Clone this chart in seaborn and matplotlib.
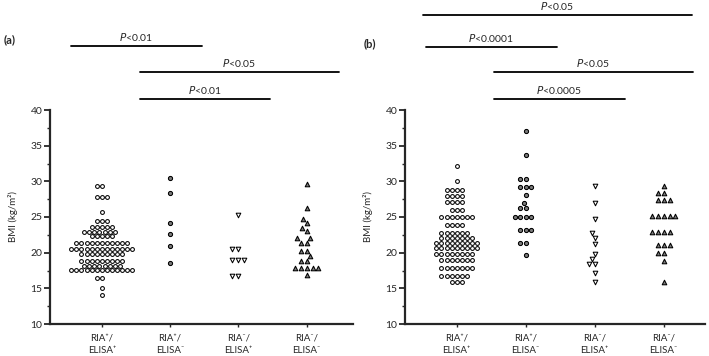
import numpy as np
import pandas as pd
import matplotlib
matplotlib.use("Agg")
import matplotlib.pyplot as plt
from matplotlib.lines import Line2D
import seaborn as sns

# ---------------- data ----------------
groups = ["RIA+/ELISA+", "RIA+/ELISA-", "RIA-/ELISA+", "RIA-/ELISA-"]
tick_labels = ["RIA⁺/\nELISA⁺", "RIA⁺/\nELISA⁻", "RIA⁻/\nELISA⁺", "RIA⁻/\nELISA⁻"]

# panel (a): BMI levels and number of subjects at each level
a1_levels = [29.4, 27.8, 25.7, 24.4, 23.6, 22.9, 22.3, 21.3, 20.5, 19.8, 18.9, 18.2, 17.6, 16.5, 15.0, 14.0]
a1_counts = [2, 3, 1, 3, 5, 7, 5, 11, 13, 9, 9, 8, 13, 2, 1, 1]
a2_levels = [30.5, 28.4, 24.1, 22.6, 21.0, 18.6]
a2_counts = [1, 1, 1, 1, 1, 1]
a3_levels = [25.3, 20.5, 19.0, 16.7]
a3_counts = [1, 2, 3, 2]
a4_levels = [29.6, 26.3, 24.7, 24.1, 23.5, 23.0, 22.0, 21.4, 20.3, 19.5, 18.9, 17.9, 16.9]
a4_counts = [1, 1, 1, 1, 1, 1, 2, 2, 2, 1, 2, 5, 1]

# panel (b)
b1_levels = [32.2, 30.0, 28.8, 28.0, 27.1, 26.0, 25.0, 23.9, 22.8, 22.1, 21.3, 20.6, 19.8, 19.0, 17.8, 16.7, 15.9]
b1_counts = [1, 1, 4, 4, 4, 3, 7, 4, 6, 7, 9, 9, 8, 7, 7, 6, 3]
b2_levels = [37.1, 33.7, 30.3, 29.2, 28.1, 26.9, 26.2, 25.0, 23.2, 21.3, 19.7]
b2_counts = [1, 1, 2, 3, 1, 1, 2, 4, 3, 2, 1]
b3_levels = [29.3, 26.9, 24.7, 22.8, 22.1, 21.2, 19.8, 19.1, 18.4, 17.2, 15.9]
b3_counts = [1, 1, 1, 1, 1, 1, 1, 1, 2, 1, 1]
b4_levels = [29.3, 28.4, 27.4, 25.2, 22.9, 21.1, 20.0, 18.9, 15.9]
b4_counts = [1, 2, 3, 5, 4, 3, 2, 1, 1]

# significance annotations: (text, x0, x1, y) in figure pixels
sig_a = [("<0.01", 71, 202, 46), ("<0.05", 140, 339, 72), ("<0.01", 140, 270, 99)]
sig_b = [("<0.05", 423, 692, 15), ("<0.0001", 426, 557, 47),
         ("<0.05", 494, 693, 72), ("<0.0005", 494, 625, 99)]

STEP = 0.6  # spacing of category positions on the x scale (swarm width is 0.8 units)


def make_df(levels_counts):
    rows = []
    for i, (g, (lv, ct)) in enumerate(zip(groups, levels_counts)):
        for v, c in zip(lv, ct):
            rows += [(g, i * STEP, v)] * c
    return pd.DataFrame(rows, columns=["group", "xpos", "bmi"])


df_a = make_df([(a1_levels, a1_counts), (a2_levels, a2_counts),
                (a3_levels, a3_counts), (a4_levels, a4_counts)])
df_b = make_df([(b1_levels, b1_counts), (b2_levels, b2_counts),
                (b3_levels, b3_counts), (b4_levels, b4_counts)])

# ---------------- style ----------------
sns.set_theme(style="ticks")
plt.rcParams["font.family"] = ["Lato", "DejaVu Sans"]
plt.rcParams["mathtext.fontset"] = "dejavusans"

W, H = 709, 356
fig = plt.figure(figsize=(W / 100, H / 100), dpi=100)

styles = [dict(marker="o", color="white", size=2.75),
          dict(marker="o", color="#7a7a7a", size=3.0),
          dict(marker="v", color="white", size=3.3),
          dict(marker="^", color="#7a7a7a", size=3.3)]


def fx(px):
    return px / W


def fy(py):
    return 1 - py / H


def draw_panel(df, left, right, xlim, label, label_pos, sigs):
    ax = fig.add_axes([fx(left), fy(324), fx(right - left), (324 - 110) / H])
    for g, st in zip(groups, styles):
        sub = df[df["group"] == g]
        sns.swarmplot(data=sub, x="xpos", y="bmi", native_scale=True, orient="x", ax=ax,
                      marker=st["marker"], color=st["color"], edgecolor="black",
                      linewidth=0.75, size=st["size"], warn_thresh=1.0)
    ax.set_xlim(xlim[0] * STEP, xlim[1] * STEP)
    ax.set_ylim(10, 40)
    ax.set_yticks(np.arange(10, 41, 5))
    ax.set_yticks(np.arange(12.5, 40, 5), minor=True)
    ax.set_xticks([i * STEP for i in range(4)])
    ax.set_xticklabels(tick_labels, fontsize=7, linespacing=1.5)
    ax.tick_params(axis="y", which="major", length=4, width=1.3, labelsize=7.5, pad=1.5, direction="out")
    ax.tick_params(axis="y", which="minor", length=2.5, width=1.0)
    ax.tick_params(axis="x", length=2, width=1.0, pad=4.5)
    ax.set_xlabel("")
    ax.set_ylabel("BMI (kg/m²)", fontsize=7, labelpad=9)
    sns.despine(ax=ax)
    for s in ["left", "bottom"]:
        ax.spines[s].set_linewidth(1.6)
    fig.text(fx(label_pos[0]), fy(label_pos[1]), label, fontsize=8, fontweight="bold",
             ha="left", va="center")
    for txt, x0, x1, y in sigs:
        fig.add_artist(Line2D([fx(x0), fx(x1)], [fy(y), fy(y)], color="black", lw=1.3,
                              transform=fig.transFigure))
        fig.text(fx((x0 + x1) / 2), fy(y - 3), "$\\it{P}$" + txt, fontsize=7.5,
                 ha="center", va="bottom")
    return ax


draw_panel(df_a, 50, 353, (-0.76, 3.68), "(a)", (4, 40), sig_a)
draw_panel(df_b, 405, 705, (-0.75, 3.6), "(b)", (364, 44), sig_b)

fig.savefig("out.png", dpi=100)
